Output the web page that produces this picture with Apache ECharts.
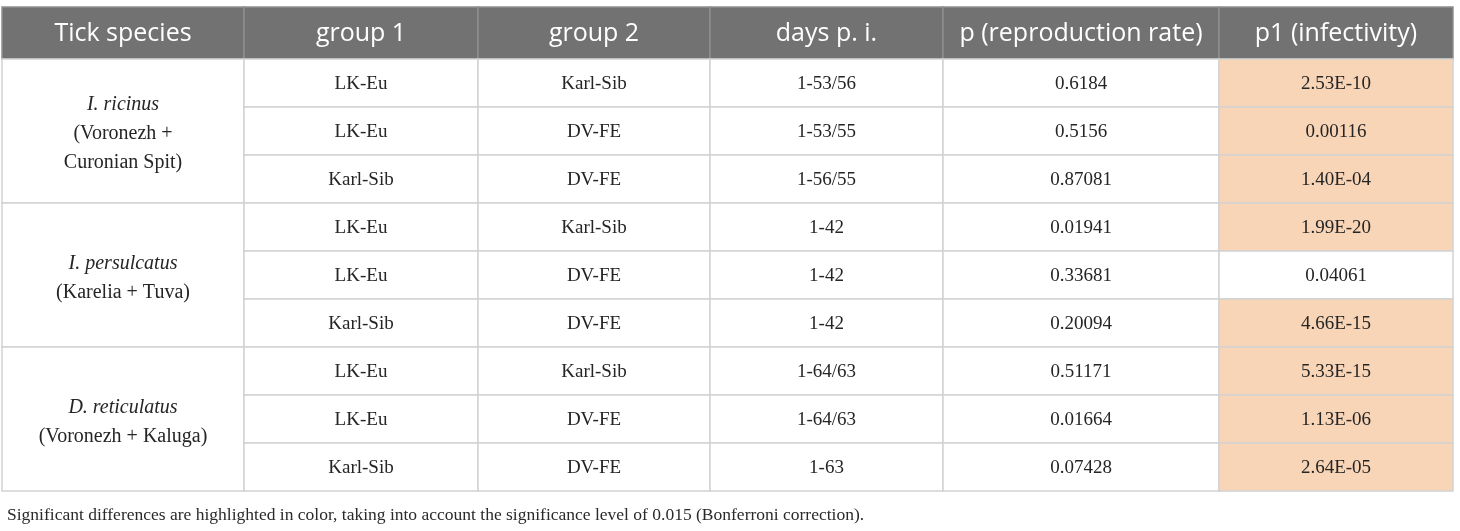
<!DOCTYPE html>
<html>
<head>
<meta charset="UTF-8">
<script src="https://cdn.jsdelivr.net/npm/echarts@6/dist/echarts.min.js"></script>
<style>
  html, body { margin: 0; background: #fff; }
  #chart { width: 1460px; height: 531px; }
</style>
</head>
<body>
<div id="chart"></div>
<script>
// table content
const headers = ['Tick species', 'group 1', 'group 2', 'days p. i.', 'p (reproduction rate)', 'p1 (infectivity)'];
const species = [
  ['I. ricinus', '(Voronezh +', 'Curonian Spit)'],
  ['I. persulcatus', '(Karelia + Tuva)'],
  ['D. reticulatus', '(Voronezh + Kaluga)']
];
const group1 = ['LK-Eu', 'LK-Eu', 'Karl-Sib', 'LK-Eu', 'LK-Eu', 'Karl-Sib', 'LK-Eu', 'LK-Eu', 'Karl-Sib'];
const group2 = ['Karl-Sib', 'DV-FE', 'DV-FE', 'Karl-Sib', 'DV-FE', 'DV-FE', 'Karl-Sib', 'DV-FE', 'DV-FE'];
const days = ['1-53/56', '1-53/55', '1-56/55', '1-42', '1-42', '1-42', '1-64/63', '1-64/63', '1-63'];
const pRepro = ['0.6184', '0.5156', '0.87081', '0.01941', '0.33681', '0.20094', '0.51171', '0.01664', '0.07428'];
const p1Infect = ['2.53E-10', '0.00116', '1.40E-04', '1.99E-20', '0.04061', '4.66E-15', '5.33E-15', '1.13E-06', '2.64E-05'];
const sigLevel = 0.015;
const footnote = 'Significant differences are highlighted in color, taking into account the significance level of 0.015 (Bonferroni correction).';

// layout (axis units = px)
const colEdges = [0, 242, 476, 708, 941, 1217, 1451];
const headH = 52, rowH = 48, rowsPerSpecies = 3;
const nRows = group1.length;
const tableH = headH + nRows * rowH;

const bodyCols = [group1, group2, days, pRepro, p1Infect];
const cells = [];
headers.forEach((h, c) => cells.push({ kind: 'head', col: c, y0: 0, y1: headH, lines: [h] }));
species.forEach((lines, i) => cells.push({
  kind: 'species', col: 0,
  y0: headH + i * rowsPerSpecies * rowH, y1: headH + (i + 1) * rowsPerSpecies * rowH,
  lines: lines
}));
for (let r = 0; r < nRows; r++) {
  bodyCols.forEach((arr, k) => {
    const c = k + 1;
    cells.push({
      kind: 'body', col: c,
      y0: headH + r * rowH, y1: headH + (r + 1) * rowH,
      lines: [arr[r]],
      sig: c === 5 && Number(arr[r]) < sigLevel
    });
  });
}

const chart = echarts.init(document.getElementById('chart'));

function renderItem(params, api) {
  const cell = cells[params.dataIndex];
  const p0 = api.coord([api.value(0), api.value(1)]);
  const p1 = api.coord([api.value(2), api.value(3)]);
  const x = p0[0], y = p0[1], w = p1[0] - p0[0], h = p1[1] - p0[1];
  const head = cell.kind === 'head';
  const sp = cell.kind === 'species';
  const children = [{
    type: 'rect',
    shape: { x: x, y: y, width: w, height: h },
    style: {
      fill: head ? '#717271' : (cell.sig ? '#f9d5b7' : '#ffffff'),
      stroke: head ? '#8e8f8e' : '#d2d2d2',
      lineWidth: 1.5
    }
  }];
  const lineH = 29;
  const cy = y + h / 2 - (cell.lines.length - 1) * lineH / 2 + (sp ? 3 : 1);
  cell.lines.forEach((t, j) => {
    children.push({
      type: 'text',
      style: {
        text: t,
        x: x + w / 2,
        y: cy + j * lineH,
        align: 'center',
        verticalAlign: 'middle',
        fill: head ? '#ffffff' : '#252525',
        fontFamily: head ? 'Open Sans' : 'Liberation Serif',
        fontSize: head ? 25 : (sp ? 20 : 19),
        fontStyle: sp && j === 0 ? 'italic' : 'normal'
      }
    });
  });
  return { type: 'group', children: children };
}

chart.setOption({
  animation: false,
  title: {
    text: footnote,
    left: 2,
    top: 501,
    textStyle: { fontFamily: 'Liberation Serif', fontSize: 17.5, fontWeight: 'normal', color: '#2a2a2a' }
  },
  grid: { left: 2, top: 7, width: colEdges[colEdges.length - 1], height: tableH },
  xAxis: { type: 'value', min: 0, max: colEdges[colEdges.length - 1], show: false },
  yAxis: { type: 'value', min: 0, max: tableH, inverse: true, show: false },
  series: [{
    type: 'custom',
    renderItem: renderItem,
    data: cells.map(c => [colEdges[c.col], c.y0, colEdges[c.col + 1], c.y1]),
    encode: { x: [0, 2], y: [1, 3] },
    clip: false,
    silent: true
  }]
});
</script>
</body>
</html>
